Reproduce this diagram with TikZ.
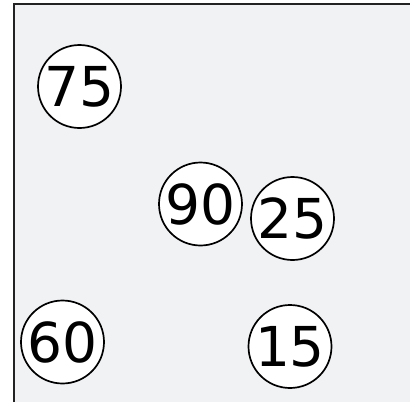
\documentclass[tikz,border=0pt]{standalone}
\usepackage{fontspec}
\setmainfont{DejaVu Sans}
\begin{document}
\begin{tikzpicture}[x=1pt,y=-1pt,
  ball/.style={circle,draw=black,line width=1.7pt,fill=white,minimum size=83pt,inner sep=0pt,
    font=\fontsize{55}{58}\selectfont}]
\useasboundingbox (0,0) rectangle (410,402);
\fill[fill={rgb,255:red,241;green,242;blue,244}] (14,4) rectangle (410,402);
\draw[line width=2.2pt,draw={rgb,255:red,34;green,34;blue,34}] (14,402) -- (14,4) -- (410,4);
\node[ball] (n75) at (79.5,86.5) {75};
\node[ball] (n90) at (200.5,204) {90};
\node[ball] (n25) at (292.5,218.5) {25};
\node[ball] (n60) at (62.5,342) {60};
\node[ball] (n15) at (290,346.5) {15};
\end{tikzpicture}
\end{document}
